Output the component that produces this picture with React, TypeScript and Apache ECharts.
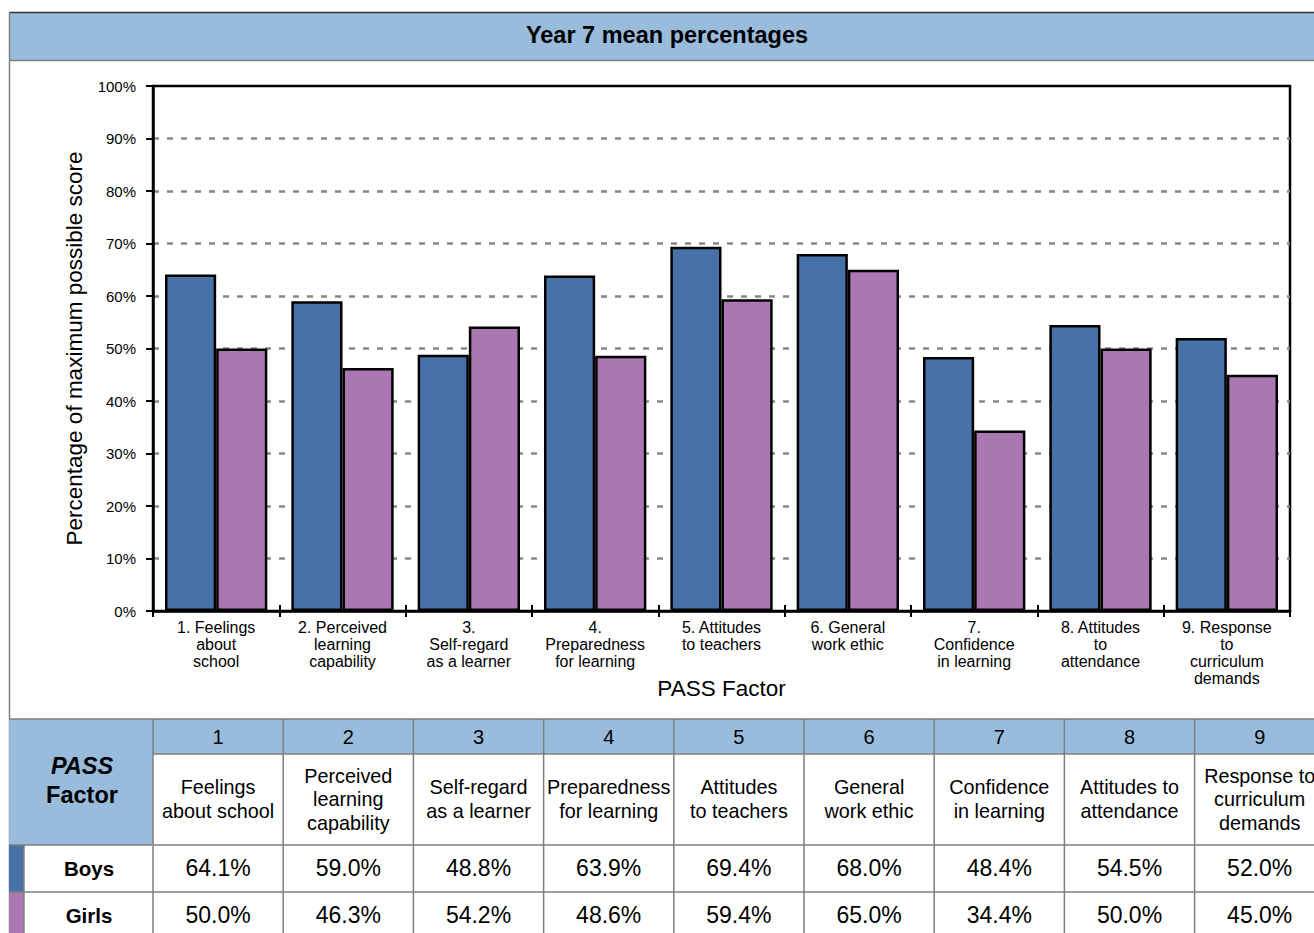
import React, { useEffect, useRef } from "react";
import * as echarts from "echarts";

const categories = [
  "1. Feelings\nabout\nschool",
  "2. Perceived\nlearning\ncapability",
  "3.\nSelf-regard\nas a learner",
  "4.\nPreparedness\nfor learning",
  "5. Attitudes\nto teachers",
  "6. General\nwork ethic",
  "7.\nConfidence\nin learning",
  "8. Attitudes\nto\nattendance",
  "9. Response\nto\ncurriculum\ndemands",
];
const boys = [64.1, 59.0, 48.8, 63.9, 69.4, 68.0, 48.4, 54.5, 52.0];
const girls = [50.0, 46.3, 54.2, 48.6, 59.4, 65.0, 34.4, 50.0, 45.0];
const factorNumbers = ["1", "2", "3", "4", "5", "6", "7", "8", "9"];
const factorNames = [
  "Feelings\nabout school",
  "Perceived\nlearning\ncapability",
  "Self-regard\nas a learner",
  "Preparedness\nfor learning",
  "Attitudes\nto teachers",
  "General\nwork ethic",
  "Confidence\nin learning",
  "Attitudes to\nattendance",
  "Response to\ncurriculum\ndemands",
];
const seriesNames = ["Boys", "Girls"];

const BLUE = "#4672A8";
const PURPLE = "#AA77B2";
const HEAD = "#99BBDC";
const LINE = "#7f7f7f";
const FONT = '"Liberation Sans", Arial, sans-serif';

function fmt(v: number) {
  return v.toFixed(1) + "%";
}

function txt(text: string, x: number, y: number, size: number, weight = "normal", style = "normal", lh?: number) {
  return {
    type: "text",
    x,
    y,
    silent: true,
    style: {
      text,
      fill: "#000",
      fontSize: size,
      fontFamily: FONT,
      fontWeight: weight,
      fontStyle: style,
      lineHeight: lh || Math.round(size * 1.2),
      align: "center",
      verticalAlign: "middle",
      textAlign: "center",
      textVerticalAlign: "middle",
    },
  };
}

function buildTable() {
  const els: any[] = [];
  const colX0 = 153;
  const colW = 130.2;
  const rowY = [719, 754, 845, 892, 940];
  const right = 1314;
  els.push({ type: "rect", shape: { x: 9, y: rowY[0], width: colX0 - 9, height: rowY[2] - rowY[0] }, style: { fill: HEAD }, silent: true });
  els.push({ type: "rect", shape: { x: colX0, y: rowY[0], width: right - colX0, height: rowY[1] - rowY[0] }, style: { fill: HEAD }, silent: true });
  els.push({ type: "rect", shape: { x: 9, y: rowY[2], width: 15, height: rowY[3] - rowY[2] }, style: { fill: BLUE }, silent: true });
  els.push({ type: "rect", shape: { x: 9, y: rowY[3], width: 15, height: rowY[4] - rowY[3] }, style: { fill: PURPLE }, silent: true });
  const ls = { stroke: LINE, lineWidth: 1.5 };
  els.push({ type: "line", shape: { x1: 9, y1: rowY[0], x2: right, y2: rowY[0] }, style: ls, silent: true });
  els.push({ type: "line", shape: { x1: colX0, y1: rowY[1], x2: right, y2: rowY[1] }, style: ls, silent: true });
  els.push({ type: "line", shape: { x1: 9, y1: rowY[2], x2: right, y2: rowY[2] }, style: ls, silent: true });
  els.push({ type: "line", shape: { x1: 9, y1: rowY[3], x2: right, y2: rowY[3] }, style: ls, silent: true });
  els.push({ type: "line", shape: { x1: 24, y1: rowY[2], x2: 24, y2: 933 }, style: ls, silent: true });
  for (let i = 0; i < factorNumbers.length; i++) {
    const x = colX0 + i * colW;
    els.push({ type: "line", shape: { x1: x, y1: rowY[0], x2: x, y2: 933 }, style: ls, silent: true });
  }
  els.push(txt("PASS", 82, 766, 23.5, "bold", "italic"));
  els.push(txt("Factor", 82, 795, 23.5, "bold"));
  els.push(txt(seriesNames[0], 89, 868, 20.5, "bold"));
  els.push(txt(seriesNames[1], 89, 915, 20.5, "bold"));
  for (let i = 0; i < factorNumbers.length; i++) {
    const cx = colX0 + i * colW + colW / 2;
    els.push(txt(factorNumbers[i], cx, 737, 20));
    els.push(txt(factorNames[i], cx, 799, 19.8, "normal", "normal", 23.5));
    els.push(txt(fmt(boys[i]), cx, 868, 23));
    els.push(txt(fmt(girls[i]), cx, 915, 23));
  }
  return els;
}

function buildFrame() {
  return [
    { type: "rect", shape: { x: 9, y: 12, width: 1320, height: 48 }, style: { fill: HEAD }, silent: true },
    { type: "line", shape: { x1: 9, y1: 12.5, x2: 1314, y2: 12.5 }, style: { stroke: "#333", lineWidth: 1.5 }, silent: true },
    { type: "line", shape: { x1: 9, y1: 60.5, x2: 1314, y2: 60.5 }, style: { stroke: LINE, lineWidth: 1.5 }, silent: true },
    { type: "line", shape: { x1: 9.5, y1: 12, x2: 9.5, y2: 933 }, style: { stroke: LINE, lineWidth: 1.5 }, silent: true },
    txt("Year 7 mean percentages", 667, 35, 23.5, "bold"),
  ];
}

export default function App() {
  const ref = useRef<HTMLDivElement>(null);
  useEffect(() => {
    if (!ref.current) return;
    const chart = echarts.init(ref.current, null, { renderer: "svg" });
    chart.setOption({
      animation: false,
      backgroundColor: "#fff",
      textStyle: { fontFamily: FONT, color: "#000" },
      grid: {
        left: 153,
        top: 86,
        right: 24,
        bottom: 322,
        show: true,
        borderColor: "#000",
        borderWidth: 2.5,
        backgroundColor: "transparent",
      },
      xAxis: [
        {
          type: "category",
          data: categories,
          name: "PASS Factor",
          nameLocation: "middle",
          nameGap: 66,
          nameMoveOverlap: false,
          nameTextStyle: { fontSize: 22.5, color: "#000", fontFamily: FONT },
          axisLine: { lineStyle: { color: "#000", width: 2.5 } },
          axisTick: { show: true, length: 6, lineStyle: { color: "#000", width: 2 } },
          axisLabel: { interval: 0, fontSize: 16, lineHeight: 17, color: "#000", margin: 8, fontFamily: FONT },
        },
        {
          type: "category",
          data: categories,
          position: "bottom",
          axisLine: { show: false },
          axisTick: { show: true, inside: true, length: 6, lineStyle: { color: "#000", width: 2 } },
          axisLabel: { show: false },
        },
      ],
      yAxis: {
        type: "value",
        min: 0,
        max: 100,
        interval: 10,
        name: "Percentage of maximum possible score",
        nameLocation: "middle",
        nameGap: 67,
        nameTextStyle: { fontSize: 22.5, color: "#000", fontFamily: FONT },
        axisLine: { show: true, lineStyle: { color: "#000", width: 2.5 } },
        axisTick: { show: true, length: 7, lineStyle: { color: "#000", width: 2 } },
        axisLabel: { formatter: "{value}%", fontSize: 15, color: "#000", margin: 17, fontFamily: FONT },
        splitLine: {
          show: true,
          showMinLine: false,
          showMaxLine: false,
          lineStyle: { color: "#888", width: 2.5, type: [6, 8] },
        },
      },
      series: [
        {
          name: seriesNames[0],
          type: "bar",
          data: boys,
          barGap: "0%",
          barCategoryGap: "19%",
          itemStyle: { color: BLUE, borderColor: "#000", borderWidth: 2.5 },
        },
        {
          name: seriesNames[1],
          type: "bar",
          data: girls,
          barGap: "0%",
          barCategoryGap: "19%",
          itemStyle: { color: PURPLE, borderColor: "#000", borderWidth: 2.5 },
        },
      ],
      graphic: [...buildFrame(), ...buildTable()],
    });
    return () => chart.dispose();
  }, []);
  return <div ref={ref} style={{ position: "absolute", left: 0, top: 0, width: 1314, height: 933 }} />;
}
